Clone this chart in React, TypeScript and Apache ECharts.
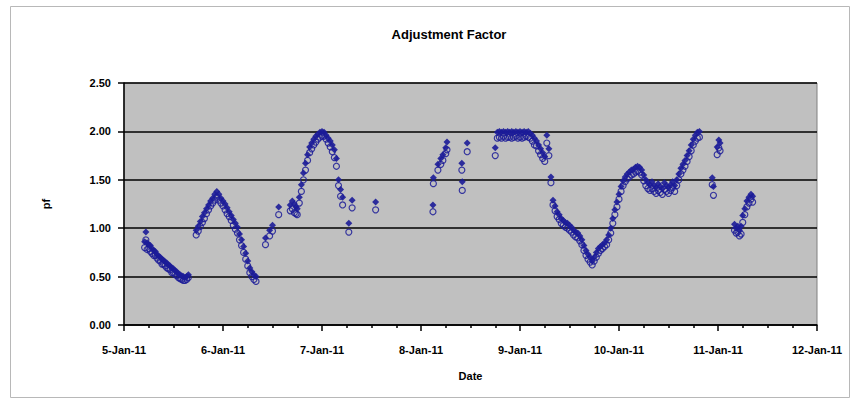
import React, { useEffect, useRef } from "react";
import * as echarts from "echarts";

// Axis setup: days of January 2011, and the pf scale
const dayTicks = [5, 6, 7, 8, 9, 10, 11, 12];
const pfTicks = [0, 0.5, 1.0, 1.5, 2.0, 2.5];

// Hours elapsed since 5-Jan-11 00:00 for each reading
const readingHours = [
  5.0, 5.3, 5.6, 6.0, 6.4, 6.8, 7.2, 7.6, 8.0, 8.4, 8.8, 9.2, 9.6, 10.0, 10.4, 10.8, 11.2, 11.6, 12.0, 12.4,
  12.8, 13.2, 13.6, 14.0, 14.4, 14.8, 15.2, 15.6,
  17.5, 18.0, 18.5, 19.0, 19.5, 20.0, 20.5, 21.0, 21.5, 22.0, 22.5, 23.0, 23.5, 24.0, 24.5, 25.0, 25.5, 26.0,
  26.5, 27.0, 27.5, 28.0, 28.5, 29.0, 29.5, 30.0, 30.5, 31.0, 31.5, 32.0,
  34.3, 35.3, 36.0, 37.5, 40.3, 40.8, 41.3, 41.7, 42.0, 42.5, 43.0, 43.5, 44.0, 44.5, 45.0, 45.5, 46.0, 46.5,
  47.0, 47.5, 48.0, 48.5, 49.0, 49.5, 50.0, 50.5, 51.0, 51.5, 52.0, 52.5, 53.0, 54.5, 55.3, 61.0,
  74.9, 75.0, 76.1, 76.8, 77.3, 78.0, 78.3, 81.9, 82.0, 83.2,
  90.0, 90.5, 91.0, 91.5, 92.0, 92.5, 93.0, 93.5, 94.0, 94.5, 95.0, 95.5, 96.0, 96.5, 97.0, 97.5, 98.0, 98.5,
  99.0, 99.5, 100.0, 100.5, 101.0, 101.5, 102.0, 102.5, 103.0, 103.5, 104.0, 104.5, 105.0, 105.5, 106.0,
  106.5, 107.0, 107.5, 108.0, 108.5, 109.0, 109.5, 110.0, 110.5, 111.0, 111.5, 112.0, 112.5, 113.0, 113.5,
  114.0, 114.5, 115.0, 115.5, 116.0, 116.5, 117.0, 117.5, 118.0, 118.5, 119.0, 119.5, 120.0, 120.5, 121.0,
  121.5, 122.0, 122.5, 123.0, 123.5, 124.0, 124.5, 125.0, 125.5, 126.0, 126.5, 127.0, 127.5, 128.0, 128.5,
  129.0, 129.5, 130.0, 130.5, 131.0, 131.5, 132.0, 132.5, 133.0, 133.5, 134.0, 134.5, 135.0, 135.5, 136.0,
  136.5, 137.0, 137.5, 138.0, 138.5, 139.0, 139.5,
  142.6, 142.9, 143.8, 144.2, 144.5,
  148.0, 148.4, 148.8, 149.2, 149.6, 150.0, 150.5, 151.0, 151.5, 152.0, 152.4,
];

// Adjustment factor, upper reading (diamond markers)
const pfUpper = [
  0.86, 0.96, 0.85, 0.83, 0.82, 0.79, 0.77, 0.76, 0.73, 0.71, 0.70, 0.68, 0.67, 0.65, 0.64, 0.62, 0.61, 0.59, 0.58, 0.56,
  0.55, 0.53, 0.52, 0.51, 0.50, 0.49, 0.50, 0.52,
  0.98, 1.02, 1.07, 1.12, 1.16, 1.20, 1.24, 1.28, 1.31, 1.35, 1.38, 1.35, 1.31, 1.28, 1.25, 1.21, 1.17, 1.13,
  1.09, 1.05, 1.01, 0.94, 0.88, 0.81, 0.74, 0.66, 0.59, 0.55, 0.52, 0.50,
  0.90, 0.98, 1.03, 1.22, 1.24, 1.28, 1.25, 1.22, 1.20, 1.32, 1.45, 1.57, 1.67, 1.76, 1.84, 1.88, 1.92, 1.95,
  1.97, 1.99, 2.00, 1.99, 1.96, 1.93, 1.90, 1.86, 1.81, 1.72, 1.50, 1.40, 1.32, 1.05, 1.29, 1.27,
  1.24, 1.52, 1.66, 1.72, 1.76, 1.83, 1.89, 1.67, 1.48, 1.88,
  1.83, 1.99, 2.00, 1.99, 2.00, 1.99, 2.00, 1.99, 2.00, 1.99, 2.00, 1.99, 2.00, 1.99, 2.00, 1.99, 2.00, 1.98,
  1.96, 1.93, 1.90, 1.86, 1.82, 1.78, 1.74, 1.96, 1.82, 1.53, 1.29, 1.23, 1.17, 1.14, 1.10,
  1.08, 1.06, 1.05, 1.03, 1.01, 0.98, 0.96, 0.95, 0.92, 0.88, 0.82, 0.77, 0.73, 0.70, 0.66,
  0.70, 0.75, 0.79, 0.81, 0.83, 0.85, 0.88, 0.93, 1.00, 1.10, 1.19, 1.27, 1.35, 1.43, 1.49,
  1.53, 1.56, 1.58, 1.60, 1.61, 1.63, 1.64, 1.63, 1.60, 1.55, 1.50, 1.47, 1.45, 1.48, 1.44,
  1.42, 1.46, 1.43, 1.41, 1.47, 1.44, 1.42, 1.45, 1.48, 1.44, 1.50, 1.56, 1.62, 1.66, 1.70,
  1.75, 1.80, 1.86, 1.92, 1.96, 1.99, 2.00,
  1.52, 1.43, 1.84, 1.91, 1.88,
  1.04, 1.00, 1.02, 0.98, 1.02, 1.13, 1.20, 1.28, 1.32, 1.35, 1.33,
];

// Adjustment factor, lower reading (open circle markers)
const pfLower = [
  0.80, 0.88, 0.78, 0.79, 0.76, 0.74, 0.72, 0.72, 0.69, 0.67, 0.66, 0.63, 0.63, 0.61, 0.59, 0.58, 0.57, 0.54, 0.54, 0.52,
  0.51, 0.49, 0.48, 0.47, 0.46, 0.46, 0.47, 0.49,
  0.93, 0.97, 1.02, 1.06, 1.10, 1.15, 1.19, 1.23, 1.26, 1.29, 1.32, 1.29, 1.26, 1.23, 1.19, 1.15, 1.12, 1.08,
  1.03, 0.99, 0.95, 0.88, 0.82, 0.75, 0.68, 0.61, 0.54, 0.50, 0.47, 0.45,
  0.83, 0.92, 0.97, 1.14, 1.18, 1.20, 1.16, 1.15, 1.14, 1.26, 1.38, 1.50, 1.60, 1.70, 1.78, 1.82, 1.86, 1.89,
  1.92, 1.94, 1.95, 1.95, 1.92, 1.88, 1.84, 1.79, 1.73, 1.64, 1.44, 1.33, 1.24, 0.96, 1.21, 1.19,
  1.17, 1.46, 1.60, 1.66, 1.70, 1.77, 1.81, 1.60, 1.39, 1.79,
  1.75, 1.93, 1.94, 1.93, 1.95, 1.93, 1.94, 1.94, 1.93, 1.94, 1.95, 1.93, 1.94, 1.93, 1.94, 1.95, 1.94, 1.93,
  1.90, 1.86, 1.85, 1.80, 1.76, 1.72, 1.69, 1.88, 1.75, 1.47, 1.24, 1.18, 1.12, 1.09, 1.05,
  1.03, 1.01, 1.00, 0.98, 0.96, 0.93, 0.91, 0.90, 0.87, 0.83, 0.77, 0.72, 0.68, 0.65, 0.62,
  0.66, 0.70, 0.74, 0.77, 0.79, 0.81, 0.83, 0.88, 0.95, 1.05, 1.14, 1.22, 1.30, 1.38, 1.44,
  1.48, 1.51, 1.53, 1.55, 1.56, 1.58, 1.59, 1.58, 1.55, 1.49, 1.44, 1.41, 1.39, 1.41, 1.38,
  1.36, 1.39, 1.37, 1.35, 1.40, 1.38, 1.36, 1.39, 1.42, 1.38, 1.44, 1.50, 1.56, 1.60, 1.64,
  1.69, 1.74, 1.80, 1.86, 1.90, 1.93, 1.94,
  1.45, 1.34, 1.76, 1.83, 1.80,
  0.98, 0.95, 0.96, 0.92, 0.94, 1.06, 1.14, 1.22, 1.26, 1.30, 1.27,
];

const NAVY = "#1c1c98";
const FONT = "Liberation Sans, Arial, sans-serif";

const toPoints = (values: number[]) =>
  readingHours.map((h, i) => [dayTicks[0] + h / 24, values[i]]);

export default function App() {
  const ref = useRef<HTMLDivElement>(null);

  useEffect(() => {
    if (!ref.current) return;
    const chart = echarts.init(ref.current, undefined, { renderer: "svg" });
    chart.setOption({
      animation: false,
      backgroundColor: "#ffffff",
      title: {
        text: "Adjustment Factor",
        left: 444,
        textAlign: "center",
        top: 23,
        textStyle: { fontFamily: FONT, fontSize: 13, fontWeight: "bold", color: "#000" },
      },
      graphic: [
        {
          type: "rect",
          shape: { x: 10.5, y: 6.5, width: 839, height: 391 },
          style: { fill: "none", stroke: "#b8b8b8", lineWidth: 1 },
          silent: true,
          z: 0,
        },
      ],
      grid: {
        left: 124,
        right: 43,
        top: 83,
        bottom: 78,
        show: true,
        backgroundColor: "#c0c0c0",
        borderColor: "#808080",
        borderWidth: 1,
      },
      xAxis: {
        type: "value",
        min: dayTicks[0],
        max: dayTicks[dayTicks.length - 1],
        interval: 1,
        name: "Date",
        nameLocation: "middle",
        nameGap: 45,
        nameTextStyle: { fontFamily: FONT, fontSize: 11, fontWeight: "bold", color: "#000" },
        axisLine: { show: true, lineStyle: { color: "#000", width: 1.5 } },
        axisTick: { show: true, inside: false, length: 6, lineStyle: { color: "#000", width: 1.5 } },
        minorTick: { show: true, splitNumber: 4, length: 3, lineStyle: { color: "#000", width: 1.5 } },
        axisLabel: {
          margin: 19,
          fontFamily: FONT,
          fontSize: 11,
          fontWeight: "bold",
          color: "#000",
          formatter: (v: number) => `${v}-Jan-11`,
        },
        splitLine: { show: false },
      },
      yAxis: {
        type: "value",
        min: pfTicks[0],
        max: pfTicks[pfTicks.length - 1],
        interval: 0.5,
        name: "pf",
        nameLocation: "middle",
        nameGap: 73,
        nameRotate: 90,
        nameTextStyle: { fontFamily: FONT, fontSize: 11, fontWeight: "bold", color: "#000" },
        axisLine: { show: true, lineStyle: { color: "#000", width: 1.5 } },
        axisTick: { show: true, inside: false, length: 6, lineStyle: { color: "#000", width: 1.5 } },
        axisLabel: {
          margin: 13,
          fontFamily: FONT,
          fontSize: 11,
          fontWeight: "bold",
          color: "#000",
          formatter: (v: number) => v.toFixed(2),
        },
        splitLine: { show: true, lineStyle: { color: "#000", width: 1.5 } },
      },
      series: [
        {
          name: "pf lower",
          type: "scatter",
          symbol: "circle",
          symbolSize: 6,
          itemStyle: { color: "rgba(0,0,0,0)", borderColor: NAVY, borderWidth: 1.2, opacity: 0.85 },
          data: toPoints(pfLower),
        },
        {
          name: "pf upper",
          type: "scatter",
          symbol: "diamond",
          symbolSize: 7,
          itemStyle: { color: NAVY, opacity: 0.9 },
          data: toPoints(pfUpper),
        },
      ],
    });
    return () => chart.dispose();
  }, []);

  return (
    <div
      ref={ref}
      style={{ position: "fixed", left: 0, top: 0, width: 860, height: 403, background: "#fff" }}
    />
  );
}
